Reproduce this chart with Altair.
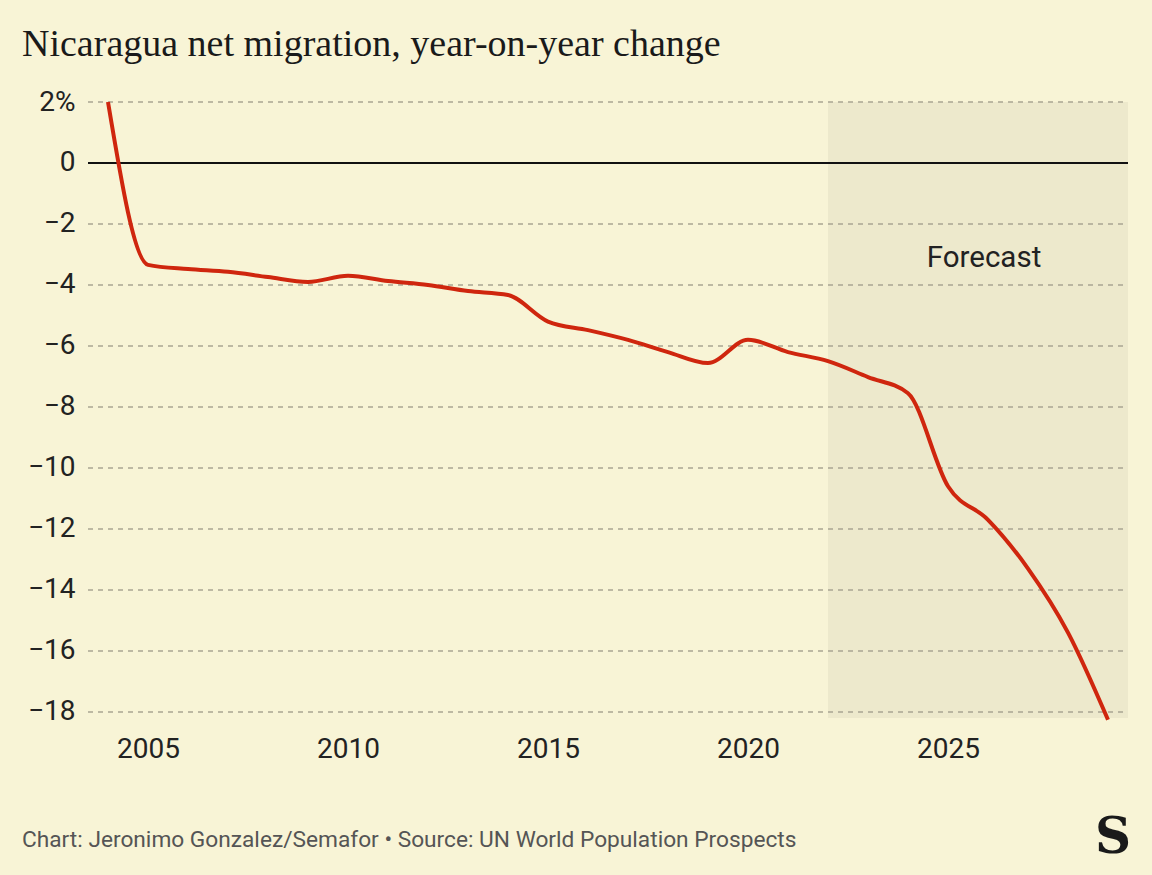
import altair as alt
import pandas as pd

years = list(range(2004, 2030))
values = [2.0, -3.34, -3.48, -3.57, -3.74, -3.9, -3.7, -3.87, -4.0, -4.2, -4.33,
          -5.2, -5.48, -5.8, -6.2, -6.56, -5.8, -6.2, -6.5, -7.02, -7.55,
          -10.6, -11.7, -13.3, -15.4, -18.26]
y_ticks = [2, 0, -2, -4, -6, -8, -10, -12, -14, -16, -18]
x_ticks = [2005, 2010, 2015, 2020, 2025]
forecast_start, forecast_end = 2022, 2029.5
x_domain = [2003.5, 2029.5]
y_domain = [-18.2, 2]

BG = "#F8F4D6"
SHADE = "#EDE9CC"
RED = "#CF260E"

df = pd.DataFrame({"year": years, "value": values})
grid_df = pd.DataFrame({"v": [t for t in y_ticks if t != 0]})
zero_df = pd.DataFrame({"v": [0]})
shade_df = pd.DataFrame({"x": [forecast_start], "x2": [forecast_end],
                         "y": [y_domain[1]], "y2": [y_domain[0]]})
label_df = pd.DataFrame({"x": [2025.9], "y": [-3.1], "t": ["Forecast"]})
one = pd.DataFrame({"a": [0]})

W, H = 1040, 616

xscale = alt.Scale(domain=x_domain, nice=False, zero=False)
yscale = alt.Scale(domain=y_domain, nice=False, zero=False)

xaxis = alt.Axis(values=x_ticks, format="d", title=None, grid=False, domain=False,
                 ticks=False, labelFontSize=28, labelFont="Roboto",
                 labelColor="#222222", labelPadding=17)
yaxis = alt.Axis(values=y_ticks, title=None, grid=False, domain=False, ticks=False,
                 labelFontSize=28, labelFont="Roboto", labelColor="#222222",
                 labelPadding=13,
                 labelExpr="datum.value == 2 ? '2%' : replace(datum.label, '-', '\u2212')")

shade = alt.Chart(shade_df).mark_rect(color=SHADE).encode(
    x=alt.X("x:Q", scale=xscale, axis=xaxis), x2="x2:Q",
    y=alt.Y("y:Q", scale=yscale, axis=yaxis), y2="y2:Q")

grid = alt.Chart(grid_df).mark_rule(color="#A9A593", strokeDash=[5, 5], strokeWidth=1.5).encode(
    y=alt.Y("v:Q", scale=yscale, axis=yaxis), x=alt.value(0), x2=alt.value(W))

zero = alt.Chart(zero_df).mark_rule(color="#111111", strokeWidth=2).encode(
    y=alt.Y("v:Q", scale=yscale, axis=yaxis), x=alt.value(0), x2=alt.value(W))

line = alt.Chart(df).mark_line(color=RED, strokeWidth=4, interpolate="monotone").encode(
    x=alt.X("year:Q", scale=xscale, axis=xaxis),
    y=alt.Y("value:Q", scale=yscale, axis=yaxis))

flabel = alt.Chart(label_df).mark_text(fontSize=29.5, font="Roboto", color="#222222").encode(
    x=alt.X("x:Q", scale=xscale, axis=xaxis), y=alt.Y("y:Q", scale=yscale, axis=yaxis),
    text="t:N")

footer = alt.Chart(one).mark_text(
    text="Chart: Jeronimo Gonzalez/Semafor \u2022 Source: UN World Population Prospects",
    align="left", baseline="middle", fontSize=22.7, font="Roboto", color="#555555").encode(
    x=alt.value(22 - 88), y=alt.value(840 - 102))

logo = alt.Chart(one).mark_text(
    text="S", align="center", baseline="middle", fontSize=50, font="DejaVu Serif",
    fontWeight="bold", color="#1a1a1a").encode(
    x=alt.value(1113 - 88), y=alt.value(838 - 102))

chart = alt.layer(shade, grid, zero, line, flabel, footer, logo).properties(
    width=W, height=H,
    padding={"left": 88, "top": 102, "right": 24, "bottom": 157},
    autosize=alt.AutoSizeParams(type="none"),
    background=BG,
    title=alt.Title("Nicaragua net migration, year-on-year change", anchor="start",
                    font="Liberation Serif", fontSize=38, fontWeight="normal",
                    color="#1a1a1a", dx=-66, offset=24, frame="group"),
).configure_view(stroke=None)

chart.save("out.html", embed_options={"renderer": "svg", "actions": False})
